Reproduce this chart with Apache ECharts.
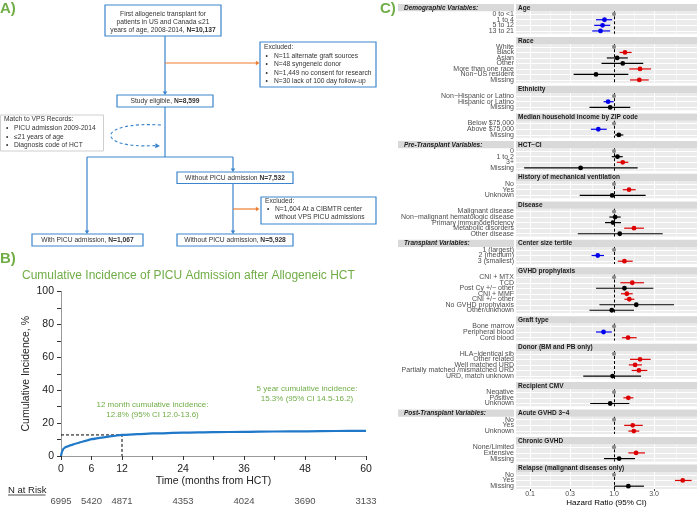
<!DOCTYPE html>
<html><head><meta charset="utf-8">
<script src="https://cdn.jsdelivr.net/npm/echarts@6/dist/echarts.min.js"></script>
<style>html,body{margin:0;padding:0;background:#fff}#c{width:700px;height:508px}</style>
</head><body><div id="c"></div>
<script>
// ---------- Panel B data ----------
const ciMonths = [0,0.25,0.5,1,2,3,4,5,6,8,10,12,15,18,24,30,36,42,48,54,60];
const ciValues = [0,3.0,4.5,5.5,6.6,7.6,8.5,9.4,10.2,11.2,12.1,12.8,13.3,13.7,14.2,14.5,14.7,14.9,15.0,15.2,15.3];
const riskMonths = [0,6,12,24,36,48,60];
const riskCounts = [6995,5420,4871,4353,4024,3690,3133];
const xTickLabels = [0,6,12,24,36,48,60];
const landmark = [12,12.8];

// ---------- Panel C data ----------
const facetTitles = ['Age','Race','Ethnicity','Median household income by ZIP code','HCT\u2212CI',
  'History of mechanical ventilation','Disease','Center size tertile','GVHD prophylaxis','Graft type',
  'Donor (BM and PB only)','Recipient CMV','Acute GVHD 3\u22124','Chronic GVHD','Relapse (malignant diseases only)'];
const facetLabels = [
  ['0 to <1','1 to 4','5 to 12','13 to 21'],
  ['White','Black','Asian','Other','More than one race','Non\u2212US resident','Missing'],
  ['Non\u2212Hispanic or Latino','Hispanic or Latino','Missing'],
  ['Below $75,000','Above $75,000','Missing'],
  ['0','1 to 2','3+','Missing'],
  ['No','Yes','Unknown'],
  ['Malignant disease','Non\u2212malignant hematologic disease','Primary immunodeficiency','Metabolic disorders','Other disease'],
  ['1 (largest)','2 (medium)','3 (smallest)'],
  ['CNI + MTX','TCD','Post Cy +/\u2212 other','CNI + MMF','CNI +/\u2212 other','No GVHD prophylaxis','Other/unknown'],
  ['Bone marrow','Peripheral blood','Cord blood'],
  ['HLA\u2212identical sib','Other related','Well matched URD','Partially matched /mismatched URD','URD, match unknown'],
  ['Negative','Positive','Unknown'],
  ['No','Yes','Unknown'],
  ['None/Limited','Extensive','Missing'],
  ['No','Yes','Missing']
];
const facetHR = [
  [1,0.77,0.73,0.69],
  [1,1.35,1.09,1.27,2.04,0.61,2.0],
  [1,0.85,0.90],
  [1,0.65,1.14],
  [1,1.10,1.27,0.40],
  [1,1.51,0.95],
  [1,1.03,0.97,1.73,1.17],
  [1,0.64,1.33],
  [1,1.65,1.33,1.42,1.52,1.84,0.94],
  [1,0.75,1.47],
  [1,2.04,1.78,1.98,0.96],
  [1,1.48,0.90],
  [1,1.67,1.72],
  [1,1.83,1.15],
  [1,6.58,1.48]
];
const facetLo = [
  [1,0.61,0.58,0.55],
  [1,1.16,0.82,0.71,1.52,0.33,1.55],
  [1,0.75,0.51],
  [1,0.53,1.03],
  [1,0.94,1.08,0.085],
  [1,1.27,0.39],
  [1,0.88,0.78,1.32,0.37],
  [1,0.54,1.11],
  [1,1.19,0.61,1.21,1.33,0.67,0.51],
  [1,0.61,1.24],
  [1,1.55,1.50,1.62,0.43],
  [1,1.29,0.52],
  [1,1.32,1.48],
  [1,1.48,0.76],
  [1,5.32,1.0]
];
const facetHi = [
  [1,0.95,0.90,0.90],
  [1,1.62,1.46,2.23,2.76,1.48,2.59],
  [1,0.99,1.56],
  [1,0.82,1.29],
  [1,1.27,1.48,1.91],
  [1,1.81,2.38],
  [1,1.20,1.21,2.27,3.8],
  [1,0.76,1.67],
  [1,2.27,2.94,1.67,1.75,5.18,1.73],
  [1,0.94,1.86],
  [1,2.73,2.15,2.49,2.10],
  [1,1.70,1.52],
  [1,2.20,2.00],
  [1,2.34,1.78],
  [1,8.4,2.27]
];
// g = reference, b = protective, r = risk, k = not significant
const facetSig = ['gbbb','grkkrkr','gbk','gbk','gkrk','grk','gkkrk','gbr','grkrrkk','gbr','grrrk','grk','grr','grk','grk'];
const sectionTitles = {0:'Demographic Variables:',4:'Pre-Transplant Variables:',7:'Transplant Variables:',12:'Post-Transplant Variables:'};
const hrBreaks = [0.1,0.3,1.0,3.0];
const hrBreakLabels = ['0.1','0.3','1.0','3.0'];
const hrMinor = [0.173,0.548,1.73,5.48];
const hrRange = [0.068,9.73];

// ---------- styles ----------
const FONT = 'Liberation Sans, Arial, Helvetica, sans-serif';
const GREEN = '#70ad47', BLUE = '#3a85cc', ORANGE = '#ed7d31', TXT = '#333';
const SIG_COLORS = ['#8a8a8a','#0000ee','#dd0000','#000000'];
const L = v => Math.log10(v);

const grids = [], xAxes = [], yAxes = [], series = [], graphics = [];

function rect(x,y,w,h,stroke){ return {type:'rect', z:5, shape:{x:x,y:y,width:w,height:h}, style:{fill:'#fff', stroke:stroke, lineWidth:1.2}}; }
function text(x,y,t,o){ return {type:'text', z:10, x:x, y:y, style:Object.assign({text:t, fill:TXT, fontSize:6.7, fontFamily:FONT, align:'left', verticalAlign:'middle', rich:{b:{fontWeight:'bold', fontSize:6.7, fontFamily:FONT, fill:TXT}}}, o||{})}; }
function seg(x1,y1,x2,y2,color,w){ return {type:'line', z:4, shape:{x1:x1,y1:y1,x2:x2,y2:y2}, style:{stroke:color, lineWidth:w||1.2}}; }
function head(x,y,dir,color){
  const s=3.6, w=2.3;
  const pts = dir==='down' ? [[x,y],[x-w,y-s],[x+w,y-s]] : [[x,y],[x-s,y-w],[x-s,y+w]];
  return {type:'polygon', z:6, shape:{points:pts}, style:{fill:color}};
}

// ---------- Panel A: flowchart ----------
graphics.push(text(0,8.5,'A)',{fontSize:15,fontWeight:'bold',fill:GREEN}));
graphics.push(rect(105,5,116,31,BLUE));
graphics.push(text(163,13.8,'First allogeneic transplant for',{align:'center'}));
graphics.push(text(163,21.8,'patients in US and Canada \u226421',{align:'center'}));
graphics.push(text(163,29.8,'years of age, 2008-2014, {b|N=10,137}',{align:'center'}));
graphics.push(seg(165,36,165,92,BLUE), head(165,95,'down',BLUE));
graphics.push(seg(165,63,256,63,ORANGE), head(259.5,63,'right',ORANGE));
graphics.push(rect(260,42,116,45,BLUE));
graphics.push(text(264,46.8,'Excluded:'));
['N=11 alternate graft sources','N=48 syngeneic donor','N=1,449 no consent for research','N=30 lack of 100 day follow-up']
  .forEach((t,i)=>{ const y=56+i*8.35; graphics.push(text(265.5,y,'\u2022'), text(274,y,t)); });
graphics.push(rect(117,95,96,12,BLUE));
graphics.push(text(165,101.2,'Study eligible, {b|N=8,599}',{align:'center'}));
graphics.push(seg(165,107,165,157,BLUE), seg(87,157,233,157,BLUE));
graphics.push(seg(87,157,87,231,BLUE), head(87,234,'down',BLUE));
graphics.push(seg(233,157,233,169,BLUE), head(233,172,'down',BLUE));
graphics.push({type:'rect', z:5, shape:{x:0.5,y:115,width:103,height:36}, style:{fill:'#fff', stroke:'#cfcfcf', lineWidth:1}});
graphics.push(text(4,119.5,'Match to VPS Records:'));
['PICU admission 2009-2014','\u226421 years of age','Diagnosis code of HCT']
  .forEach((t,i)=>{ const y=128.6+i*8.2; graphics.push(text(6,y,'\u2022'), text(14,y,t)); });
graphics.push({type:'bezierCurve', z:4, shape:{x1:161,y1:125,cpx1:95,cpy1:121,cpx2:95,cpy2:149,x2:155,y2:145.6}, style:{stroke:BLUE, lineWidth:1.1, lineDash:[3,2.5], fill:null}});
graphics.push({type:'polygon', z:6, shape:{points:[[160,146],[155.5,143.2],[155.2,148.3]]}, style:{fill:BLUE}});
graphics.push(rect(177,172,116,11.5,BLUE));
graphics.push(text(235,177.9,'Without PICU admission {b|N=7,532}',{align:'center'}));
graphics.push(seg(233,183.5,233,231,BLUE), head(233,234,'down',BLUE));
graphics.push(seg(233,209,256,209,ORANGE), head(259.5,209,'right',ORANGE));
graphics.push(rect(261,197,115,27,BLUE));
graphics.push(text(265,201.6,'Excluded:'));
graphics.push(text(267,209.6,'\u2022'), text(275,209.6,'N=1,604 At a CIBMTR center'), text(275,217.6,'without VPS PICU admissions'));
graphics.push(rect(32,234,111,12,BLUE));
graphics.push(text(87.5,240.2,'With PICU admission, {b|N=1,067}',{align:'center'}));
graphics.push(rect(177,234,116,12,BLUE));
graphics.push(text(235,240.2,'Without PICU admission, {b|N=5,928}',{align:'center'}));

// ---------- Panel B ----------
graphics.push(text(0,259,'B)',{fontSize:15,fontWeight:'bold',fill:GREEN}));
graphics.push(text(22,276,'Cumulative Incidence of PICU Admission after Allogeneic HCT',{fontSize:12,fill:GREEN}));
graphics.push(text(152.5,404.3,'12 month cumulative incidence:',{fontSize:8,fill:GREEN,align:'center'}));
graphics.push(text(152.5,415,'12.8% (95% CI 12.0-13.6)',{fontSize:8,fill:GREEN,align:'center'}));
graphics.push(text(307,388.5,'5 year cumulative incidence:',{fontSize:8,fill:GREEN,align:'center'}));
graphics.push(text(307,398.7,'15.3% (95% CI 14.5-16.2)',{fontSize:8,fill:GREEN,align:'center'}));
graphics.push(text(8,490,'N at Risk',{fontSize:9.5,fill:'#222'}));
graphics.push(seg(8,495,45.5,495,'#222',0.8));

grids.push({left:61, top:291.5, width:305, height:164.5});
grids.push({left:61, top:495, width:305, height:12});
xAxes.push({gridIndex:0, type:'value', min:0, max:60, interval:6, offset:3,
  axisLine:{show:true, lineStyle:{color:'#333', width:1}},
  axisTick:{show:true, length:4, lineStyle:{color:'#333'}},
  axisLabel:{fontSize:10.5, color:'#222', margin:5, fontFamily:FONT, formatter:v => xTickLabels.indexOf(v) >= 0 ? String(v) : ''},
  splitLine:{show:false},
  name:'Time (months from HCT)', nameLocation:'middle', nameGap:17, nameTextStyle:{fontSize:10.5, color:'#222', fontFamily:FONT}});
xAxes.push({gridIndex:0, type:'value', min:0, max:60, position:'top', offset:1.5,
  axisLine:{show:true, lineStyle:{color:'#999'}}, axisTick:{show:false}, axisLabel:{show:false}, splitLine:{show:false}});
xAxes.push({gridIndex:1, type:'value', min:0, max:60, show:false});
yAxes.push({gridIndex:0, type:'value', min:0, max:100, interval:20, offset:3,
  axisLine:{show:true, lineStyle:{color:'#333'}},
  axisTick:{show:true, length:4, lineStyle:{color:'#333'}},
  minorTick:{show:true, splitNumber:2, length:4, lineStyle:{color:'#333'}},
  axisLabel:{fontSize:10.5, color:'#222', margin:4, fontFamily:FONT},
  splitLine:{show:false},
  name:'Cumulative Incidence, %', nameLocation:'middle', nameGap:26, nameTextStyle:{fontSize:10.5, color:'#222', fontFamily:FONT}});
yAxes.push({gridIndex:0, type:'value', min:0, max:100, position:'right',
  axisLine:{show:true, lineStyle:{color:'#999'}}, axisTick:{show:false}, axisLabel:{show:false}, splitLine:{show:false}});
yAxes.push({gridIndex:1, type:'value', min:0, max:1, show:false});

series.push({type:'line', xAxisIndex:0, yAxisIndex:0, data:ciMonths.map((m,i)=>[m,ciValues[i]]),
  symbol:'none', smooth:0.3, smoothMonotone:'x', lineStyle:{color:'#1f78c8', width:2.2}, z:3});
series.push({type:'line', xAxisIndex:0, yAxisIndex:0, data:[[0,landmark[1]],[landmark[0],landmark[1]],[landmark[0],0]],
  symbol:'none', lineStyle:{color:'#000', width:1, type:[3,2]}, z:2});
series.push({type:'scatter', xAxisIndex:2, yAxisIndex:2, data:riskMonths.map((m,i)=>[m,0.5,riskCounts[i]]),
  symbolSize:1, itemStyle:{color:'rgba(0,0,0,0)'},
  label:{show:true, position:'inside', formatter:p=>String(p.value[2]), fontSize:9.5, color:'#222', fontFamily:FONT}});

// ---------- Panel C: forest plot ----------
graphics.push(text(380,8.5,'C)',{fontSize:15,fontWeight:'bold',fill:GREEN}));
const STEP = 5.35, STRIP_H = 7.3, GAP = 3.13, PX = 516, PW = 181;
function renderForest(params, api){
  const yi = api.value(1);
  const p = api.coord([api.value(0), yi]);
  const a = api.coord([api.value(2), yi]);
  const b = api.coord([api.value(3), yi]);
  const col = SIG_COLORS[api.value(4)];
  const ch = [];
  const isRef = api.value(4) === 0;
  if (!isRef) ch.push({type:'line', shape:{x1:a[0],y1:a[1],x2:b[0],y2:b[1]}, style:{stroke:col, lineWidth:1.2}});
  ch.push({type:'circle', shape:{cx:p[0], cy:p[1], r:isRef?2.1:2.4}, style:{fill:col}});
  return {type:'group', children:ch};
}
let curTop = 4;
facetTitles.forEach((title,k)=>{
  const labels = facetLabels[k];
  const n = labels.length;
  const ph = (n + 0.2) * STEP;
  const stripTop = curTop, panelTop = curTop + STRIP_H;
  const gi = grids.length;
  grids.push({left:PX, top:panelTop, width:PW, height:ph, show:true, backgroundColor:'#ebebeb', borderWidth:0});
  const last = k === facetTitles.length - 1;
  const xi = xAxes.length;
  const xa = {gridIndex:gi, type:'value', min:L(hrRange[0]), max:L(hrRange[1]),
    axisLine:{show:false}, splitLine:{show:false}, axisTick:{show:false}, axisLabel:{show:false}};
  if (last) {
    xa.axisTick = {show:true, customValues:hrBreaks.map(L), length:2, lineStyle:{color:'#333'}};
    xa.axisLabel = {show:true, customValues:hrBreaks.map(L), fontSize:7, color:'#4d4d4d', margin:2, fontFamily:FONT,
      formatter:v => { const i = hrBreaks.findIndex(b=>Math.abs(L(b)-v)<1e-6); return i>=0 ? hrBreakLabels[i] : ''; }};
    xa.name = 'Hazard Ratio (95% CI)'; xa.nameLocation = 'middle'; xa.nameGap = 9.5;
    xa.nameTextStyle = {fontSize:8, color:'#000', fontFamily:FONT};
  }
  xAxes.push(xa);
  const yi = yAxes.length;
  yAxes.push({gridIndex:gi, type:'category', data:labels, inverse:true,
    axisLine:{show:false}, splitLine:{show:false},
    axisTick:{show:true, alignWithLabel:true, length:2, lineStyle:{color:'#333'}},
    axisLabel:{interval:0, fontSize:7, color:'#4d4d4d', margin:2, fontFamily:FONT}});
  const ml = [];
  labels.forEach(lab => ml.push({yAxis:lab, lineStyle:{color:'#fff', width:1, type:'solid'}}));
  hrMinor.forEach(v => ml.push({xAxis:L(v), lineStyle:{color:'#fff', width:0.5, type:'solid'}}));
  hrBreaks.forEach(v => ml.push({xAxis:L(v), lineStyle:{color:'#fff', width:1, type:'solid'}}));
  ml.push({xAxis:0, lineStyle:{color:'#000', width:1, type:[3,2]}});
  series.push({type:'line', xAxisIndex:xi, yAxisIndex:yi, data:[], z:1, silent:true,
    markLine:{silent:true, symbol:['none','none'], label:{show:false}, animation:false, data:ml}});
  series.push({type:'custom', xAxisIndex:xi, yAxisIndex:yi, z:5, clip:false,
    encode:{x:0, y:1},
    data:labels.map((lab,i)=>[L(facetHR[k][i]), i, L(facetLo[k][i]), L(facetHi[k][i]), 'gbrk'.indexOf(facetSig[k][i])]),
    renderItem:renderForest});
  graphics.push({type:'rect', z:2, shape:{x:PX, y:stripTop, width:PW, height:STRIP_H}, style:{fill:'#d9d9d9'}});
  graphics.push(text(PX+2, stripTop+STRIP_H/2+0.2, title, {fontSize:6.5, fontWeight:'bold', fill:'#1a1a1a'}));
  if (sectionTitles[k]) {
    graphics.push({type:'rect', z:2, shape:{x:398, y:stripTop, width:116, height:STRIP_H}, style:{fill:'#d9d9d9'}});
    graphics.push(text(404, stripTop+STRIP_H/2+0.2, sectionTitles[k], {fontSize:6.5, fontWeight:'bold', fontStyle:'italic', fill:'#1a1a1a'}));
  }
  curTop = panelTop + ph + GAP;
});

const chart = echarts.init(document.getElementById('c'), null, {renderer:'canvas'});
chart.setOption({
  animation:false,
  textStyle:{fontFamily:FONT},
  grid:grids, xAxis:xAxes, yAxis:yAxes, series:series, graphic:{elements:graphics}
});
</script></body></html>
